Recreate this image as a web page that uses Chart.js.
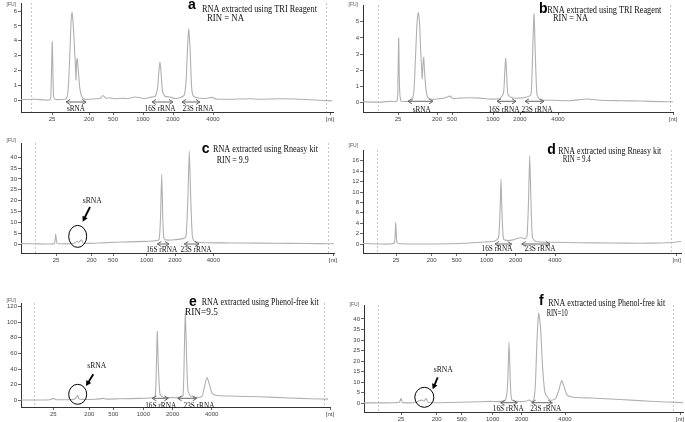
<!DOCTYPE html>
<html lang="en">
<head>
    <meta charset="UTF-8">
    <title>Electropherograms</title>
    <script src="https://cdn.jsdelivr.net/npm/chart.js"></script>
    <style>
        body {
            margin: 0;
            background: #fff;
            width: 685px;
            height: 422px;
            overflow: hidden;
            position: relative;
        }

        canvas {
            position: absolute;
        }
    </style>
</head>
<body>
    <script>
        // ladder labels (nt) shown under every trace
        const ladderNt = ['25', '200', '500', '1000', '2000', '4000', '[nt]'];

        // a - TRI Reagent
        const aTime = [0, 14, 24, 29, 30, 31.3, 32.5, 34, 39, 45, 47, 48.5, 50, 51, 52, 53.5, 54.5, 55, 55.6, 56.3, 57.5, 59, 61, 64, 69, 74, 79, 82, 85, 89, 94, 99, 107, 114, 119, 124, 129, 134, 136.5, 138, 139, 140, 141.5, 144, 149, 154, 159, 163, 165, 166.5, 167.7, 169, 170.5, 172, 176, 184, 191, 195, 209, 229, 239, 259, 279, 299, 311];
        const aFU = [0.03, 0.05, 0.0, 0.02, 0.5, 3.95, 0.3, 0.05, 0.03, 0.08, 0.6, 2.5, 5.2, 5.92, 5.3, 3.5, 2.2, 1.35, 2.6, 2.8, 1.8, 0.7, 0.2, 0.05, 0.05, 0.08, 0.1, 0.3, 0.12, 0.15, 0.08, 0.12, 0.1, 0.2, 0.15, 0.1, 0.18, 0.25, 0.8, 2.0, 2.55, 1.9, 0.6, 0.25, 0.2, 0.1, 0.15, 0.3, 1.2, 3.5, 4.78, 3.6, 1.0, 0.3, 0.15, 0.1, 0.18, 0.06, 0.05, 0.08, 0.05, 0.08, 0.05, -0.02, -0.06];
        const aLadder = [31, 68, 92, 122, 152, 192, 309];

        // b - TRI Reagent
        const bTime = [0, 15, 27, 34, 35, 35.7, 36.5, 38, 45, 49, 51, 52.5, 54, 55.3, 56.5, 57.5, 58.5, 59.3, 60, 60.7, 61.7, 63, 65, 69, 77, 82, 87, 90, 97, 107, 117, 127, 137, 140.5, 141.7, 142.7, 143.7, 145, 149, 157, 164, 168, 169.5, 171, 172.3, 174, 177, 187, 207, 224, 237, 257, 277, 297, 310];
        const bFU = [0.05, 0.03, 0.08, 0.1, 1.5, 4.0, 1.0, 0.1, 0.08, 0.15, 0.8, 2.8, 4.9, 5.57, 5.0, 3.5, 2.2, 1.47, 2.4, 2.8, 1.8, 0.8, 0.3, 0.2, 0.25, 0.3, 0.4, 0.25, 0.28, 0.3, 0.28, 0.22, 0.25, 0.6, 1.8, 2.73, 1.7, 0.5, 0.3, 0.28, 0.35, 0.5, 2.8, 5.5, 3.0, 0.5, 0.18, 0.15, 0.12, 0.22, 0.15, 0.12, 0.1, 0.06, 0.05];
        const bLadder = [35, 74, 89, 130, 157, 195, 310];

        // c - Rneasy kit
        const cTime = [0, 14, 29, 33.5, 34.7, 36, 39, 49, 53, 56, 58, 60.5, 62, 69, 79, 94, 109, 124, 134, 138, 139.5, 140.7, 141.8, 143, 147, 154, 162, 165, 166.8, 168.3, 169.8, 171.5, 174, 184, 209, 239, 269, 299, 313];
        const cFU = [0.2, 0.1, 0.0, 0.3, 4.6, 0.3, 0.1, 0.1, 0.4, 1.2, 0.8, 2.0, 0.5, 0.3, 0.5, 0.8, 1.0, 1.2, 1.5, 2.0, 12, 32.2, 12, 2.5, 1.8, 2.0, 2.5, 3.5, 20, 42.9, 20, 3, 1.0, 0.6, 0.5, 0.4, 0.3, 0.2, 0.1];
        const cLadder = [35, 70.7, 92, 125.7, 154, 192.3, 312];

        // d - Rneasy kit
        const dTime = [0, 17, 27, 31.5, 32.7, 34, 37, 57, 87, 107, 122, 132, 135.5, 137, 138, 139, 140.5, 144, 150, 155, 158.7, 162, 164, 165.5, 166.7, 168, 169.5, 173, 187, 217, 247, 277, 297, 309, 318];
        const dFU = [0.1, 0.0, 0.0, 0.3, 4.2, 0.3, 0.05, 0.0, 0.05, 0.2, 0.4, 0.6, 1.2, 6, 12.5, 6, 1.0, 0.7, 0.8, 1.1, 1.2, 1.0, 1.5, 8, 17, 8, 1.2, 0.5, 0.35, 0.25, 0.2, 0.15, 0.2, 0.3, 0.5];
        const dLadder = [33, 68.7, 93.7, 123.7, 152.7, 192, 313.7];

        // e - Phenol-free kit
        const eTime = [0, 14, 29, 32.3, 35, 44, 52, 55, 56.7, 58, 61, 74, 82.3, 85, 99, 119, 129, 134, 135.3, 136.3, 137.3, 139, 142, 149, 159, 162, 163.3, 164.3, 165.5, 167, 170, 176, 181, 183, 186, 188.5, 191, 195, 209, 239, 269, 289, 307];
        const eFU = [0.5, 0.5, 0.8, 2.5, 0.8, 0.8, 1.0, 3, 6.4, 2, 1.2, 1.3, 2.5, 1.5, 2, 2.5, 3, 4, 40, 88, 45, 8, 4, 3.5, 3.5, 6, 60, 115, 60, 12, 5, 3.5, 5, 15, 29, 20, 9, 6.5, 5.5, 4.5, 3, 2, 1.5];
        const eLadder = [32.3, 68.3, 92.3, 122.3, 151.7, 190.7, 309];

        // f - Phenol-free kit
        const fTime = [0, 16, 31, 35.5, 37, 38.5, 46, 52, 55, 58, 60, 62, 64, 71, 86, 106, 126, 141, 143.5, 145, 146.5, 148, 156, 162, 165, 168, 170, 171.5, 173, 174.7, 176.5, 178.5, 181, 186, 191, 194, 197.7, 200, 203, 208, 226, 256, 286, 319];
        const fFU = [0.2, 0.2, 0.3, 0.5, 2.4, 0.4, 0.2, 0.5, 1.2, 1.5, 1.0, 2.3, 0.5, 0.3, 0.4, 0.6, 0.9, 1.2, 8, 28.9, 8, 1.5, 0.8, 1.0, 1.6, 0.8, 2, 10, 30, 42.6, 36, 18, 5, 1.5, 2, 5, 10.7, 8, 4, 3, 2.5, 1.8, 1.0, 0.3];
        const fLadder = [37, 72.7, 97.7, 128.7, 157.7, 201, 316];

        const rangeTicks = (step, max) => { const t = []; for (let v = 0; v <= max; v += step) t.push(v); return t; };

        Chart.defaults.font.family = '"Liberation Sans", Arial, sans-serif';

        const serif = '"Liberation Serif", "Times New Roman", serif';

        const panels = [
            {
                left: 21, top: 3, bottom: 112, width: 312, ymin: -0.81, ymax: 6.55, yticks: rangeTicks(1, 6),
                t: aTime, fu: aFU, ladder: aLadder, dashed: [10, 305], fuY: 2,
                title: { letter: 'a', lx: 167, ly: 2.5, text: 'RNA extracted using TRI Reagent', tx: 181, ty: 6, tw: 115, rin: 'RIN = NA', rx: 186, ry: 15, rw: 37 },
                brackets: [[45, 65, 10, 'sRNA', 55, 3], [131, 152, 10, '16S rRNA', 139, 3], [161, 179, 10, '23S rRNA', 177, 3]]
            },
            {
                left: 363, top: 5, bottom: 111.7, width: 310, ymin: -0.58, ymax: 6.04, yticks: rangeTicks(1, 5),
                t: bTime, fu: bFU, ladder: bLadder, dashed: [14.7, 307], fuY: 0,
                title: { letter: 'b', lx: 176, ly: 3.7, text: 'RNA extracted using TRI Reagent', tx: 184.3, ty: 5, tw: 114, rin: 'RIN = NA', rx: 190, ry: 13, rw: 35 },
                brackets: [[45, 70, 10.7, 'sRNA', 58.7, 2.7], [134, 153, 10.7, '16S rRNA', 141, 2.7], [162, 181, 10.7, '23S rRNA', 174, 2.7]]
            },
            {
                left: 21, top: 143, bottom: 253.3, width: 313, ymin: -4.14, ymax: 46.6, yticks: rangeTicks(5, 40),
                t: cTime, fu: cFU, ladder: cLadder, dashed: [14, 307], fuY: -2,
                title: { letter: 'c', lx: 180.7, ly: 6.3, text: 'RNA extracted using Rneasy kit', tx: 192, ty: 6.3, tw: 105, rin: 'RIN = 9.9', rx: 195.7, ry: 17, rw: 32 },
                brackets: [[136.3, 148, 9, '16S rRNA', 140.7, 3], [163.3, 178, 9, '23S rRNA', 175, 3]],
                circle: [56.7, 16.6, 9, 11], pointer: [71.3, 52, 69, 46, 61.7, 31.3]
            },
            {
                left: 363, top: 150, bottom: 253.3, width: 318, ymin: -1.72, ymax: 18.07, yticks: rangeTicks(2, 16),
                t: dTime, fu: dFU, ladder: dLadder, dashed: [13.7, 308], fuY: -4,
                title: { letter: 'd', lx: 184.3, ly: 0, text: 'RNA extracted using Rneasy kit', tx: 195.3, ty: 1, tw: 103, rin: 'RIN = 9.4', rx: 199.7, ry: 9, rw: 28 },
                brackets: [[132, 148.7, 9, '16S rRNA', 134, 4], [158.7, 187, 9, '23S rRNA', 177, 4]]
            },
            {
                left: 21, top: 303.3, bottom: 407.7, width: 309, ymin: -8.5, ymax: 124.3, yticks: rangeTicks(20, 120),
                t: eTime, fu: eFU, ladder: eLadder, dashed: [13.3, 303], fuY: -2.6,
                title: { letter: 'e', lx: 168, ly: -0.6, text: 'RNA extracted using Phenol-free kit', tx: 180.7, ty: -0.6, tw: 117, rin: 'RIN=9.5', rx: 164, ry: 9.4, rw: 33 },
                brackets: [[131.3, 147.3, 8.7, '16S rRNA', 139.7, 1.7], [156.7, 175.7, 8.7, '23S rRNA', 178, 1.7]],
                circle: [56.7, 12.7, 9, 10], pointer: [75.7, 41, 72.3, 32.7, 65, 21]
            },
            {
                left: 364, top: 305, bottom: 412, width: 319, ymin: -4.12, ymax: 46.6, yticks: rangeTicks(5, 40),
                t: fTime, fu: fFU, ladder: fLadder, dashed: [14.3, 309.3], fuY: 0,
                title: { letter: 'f', lx: 175, ly: -4, text: 'RNA extracted using Phenol-free kit', tx: 184.3, ty: -1.7, tw: 117, rin: 'RIN=10', rx: 182.7, ry: 8.3, rw: 21 },
                brackets: [[136.7, 153.3, 9.3, '16S rRNA', 144.3, 3.3], [167.7, 188.3, 9.3, '23S rRNA', 181.7, 3.3]],
                circle: [60.3, 14.7, 9.5, 10], pointer: [79.3, 42, 73.7, 34.7, 68.7, 22.7]
            }
        ];

        function openHead(ctx, x, y, dir) {
            ctx.beginPath();
            ctx.moveTo(x + dir * 4, y - 2.5);
            ctx.lineTo(x, y);
            ctx.lineTo(x + dir * 4, y + 2.5);
            ctx.stroke();
        }

        const decorations = {
            id: 'decorations',
            beforeDatasetsDraw(chart) {
                const p = chart.options.plugins.decorations.panel;
                const ctx = chart.ctx;
                const area = chart.chartArea;
                const xs = chart.scales.x;
                ctx.save();
                ctx.strokeStyle = '#c8c8c8';
                ctx.lineWidth = 1;
                ctx.setLineDash([2, 2]);
                p.dashed.forEach(v => {
                    const x = Math.round(xs.getPixelForValue(v)) + 0.5;
                    ctx.beginPath();
                    ctx.moveTo(x, area.top);
                    ctx.lineTo(x, area.bottom);
                    ctx.stroke();
                });
                ctx.restore();
            },
            afterDraw(chart) {
                const p = chart.options.plugins.decorations.panel;
                const ctx = chart.ctx;
                const area = chart.chartArea;
                const xs = chart.scales.x;
                const px = v => xs.getPixelForValue(v);
                ctx.save();

                // [FU] unit label
                ctx.fillStyle = '#555';
                ctx.font = '5px "Liberation Sans", Arial';
                ctx.textBaseline = 'middle';
                ctx.textAlign = 'right';
                ctx.fillText('[FU]', area.left - 5, area.top + p.fuY);

                // title block
                const t = p.title;
                ctx.textAlign = 'left';
                ctx.fillStyle = '#000';
                ctx.font = 'bold 14px "Liberation Sans", Arial';
                ctx.fillText(t.letter, area.left + t.lx, area.top + t.ly);
                ctx.font = '10.5px ' + serif;
                ctx.fillStyle = '#111';
                ctx.fillText(t.text, area.left + t.tx, area.top + t.ty, t.tw);
                ctx.fillText(t.rin, area.left + t.rx, area.top + t.ry, t.rw);

                // fragment brackets
                ctx.strokeStyle = '#666';
                ctx.lineWidth = 1;
                p.brackets.forEach(b => {
                    const x1 = px(b[0]), x2 = px(b[1]), y = area.bottom - b[2];
                    ctx.beginPath();
                    ctx.moveTo(x1, y);
                    ctx.lineTo(x2, y);
                    ctx.stroke();
                    openHead(ctx, x1, y, 1);
                    openHead(ctx, x2, y, -1);
                    ctx.font = '9px ' + serif;
                    ctx.fillStyle = '#111';
                    ctx.textAlign = 'center';
                    const w = b[3] === 'sRNA' ? 18 : 31;
                    ctx.fillText(b[3], px(b[4]), area.bottom - b[5], w);
                });

                // circled sRNA region with pointer
                if (p.circle) {
                    const c = p.circle;
                    ctx.strokeStyle = '#000';
                    ctx.lineWidth = 1;
                    ctx.beginPath();
                    ctx.ellipse(px(c[0]), area.bottom - c[1], c[2], c[3], 0, 0, Math.PI * 2);
                    ctx.stroke();

                    const a = p.pointer;
                    ctx.font = '9px ' + serif;
                    ctx.fillStyle = '#111';
                    ctx.textAlign = 'center';
                    ctx.fillText('sRNA', px(a[0]), area.bottom - a[1], 19);
                    const x1 = px(a[2]), y1 = area.bottom - a[3];
                    const x2 = px(a[4]), y2 = area.bottom - a[5];
                    const ang = Math.atan2(y2 - y1, x2 - x1);
                    ctx.lineWidth = 1.8;
                    ctx.beginPath();
                    ctx.moveTo(x1, y1);
                    ctx.lineTo(x2 - 3 * Math.cos(ang), y2 - 3 * Math.sin(ang));
                    ctx.stroke();
                    ctx.fillStyle = '#000';
                    ctx.beginPath();
                    ctx.moveTo(x2, y2);
                    ctx.lineTo(x2 - 6 * Math.cos(ang - 0.5), y2 - 6 * Math.sin(ang - 0.5));
                    ctx.lineTo(x2 - 6 * Math.cos(ang + 0.5), y2 - 6 * Math.sin(ang + 0.5));
                    ctx.closePath();
                    ctx.fill();
                }
                ctx.restore();
            }
        };

        function makePanel(p) {
            const padTop = 12, yW = 20, xH = 16, padR = 8;
            const canvas = document.createElement('canvas');
            canvas.width = p.width + yW + padR;
            canvas.height = Math.round(p.bottom - p.top) + padTop + xH;
            canvas.style.left = (p.left - yW) + 'px';
            canvas.style.top = (p.top - padTop) + 'px';
            document.body.appendChild(canvas);

            const tickStyle = { color: '#444', font: { size: 6 } };

            new Chart(canvas, {
                type: 'line',
                data: {
                    datasets: [{
                        data: p.t.map((v, i) => ({ x: v, y: p.fu[i] })),
                        borderColor: '#b0b0b0',
                        borderWidth: 1.1,
                        pointRadius: 0,
                        tension: 0.2
                    }]
                },
                options: {
                    responsive: false,
                    animation: false,
                    layout: { padding: { top: padTop, right: padR, left: 0, bottom: 0 } },
                    plugins: {
                        legend: { display: false },
                        tooltip: { enabled: false },
                        decorations: { panel: p }
                    },
                    scales: {
                        x: {
                            type: 'linear',
                            min: 0,
                            max: p.width,
                            afterFit: s => { s.height = xH; },
                            afterBuildTicks: s => { s.ticks = p.ladder.map(v => ({ value: v })); },
                            ticks: Object.assign({
                                autoSkip: false, maxRotation: 0, padding: 1,
                                callback: (v, i) => ladderNt[i]
                            }, tickStyle),
                            grid: { display: true, drawOnChartArea: false, tickLength: 3, color: '#666' },
                            border: { color: '#333', width: 1 }
                        },
                        y: {
                            min: p.ymin,
                            max: p.ymax,
                            afterFit: s => { s.width = yW; },
                            afterBuildTicks: s => { s.ticks = p.yticks.map(v => ({ value: v })); },
                            ticks: Object.assign({ autoSkip: false, padding: 1 }, tickStyle),
                            grid: { display: true, drawOnChartArea: false, tickLength: 3, color: '#666' },
                            border: { color: '#333', width: 1 }
                        }
                    }
                },
                plugins: [decorations]
            });
        }

        panels.forEach(makePanel);
    </script>
</body>
</html>
